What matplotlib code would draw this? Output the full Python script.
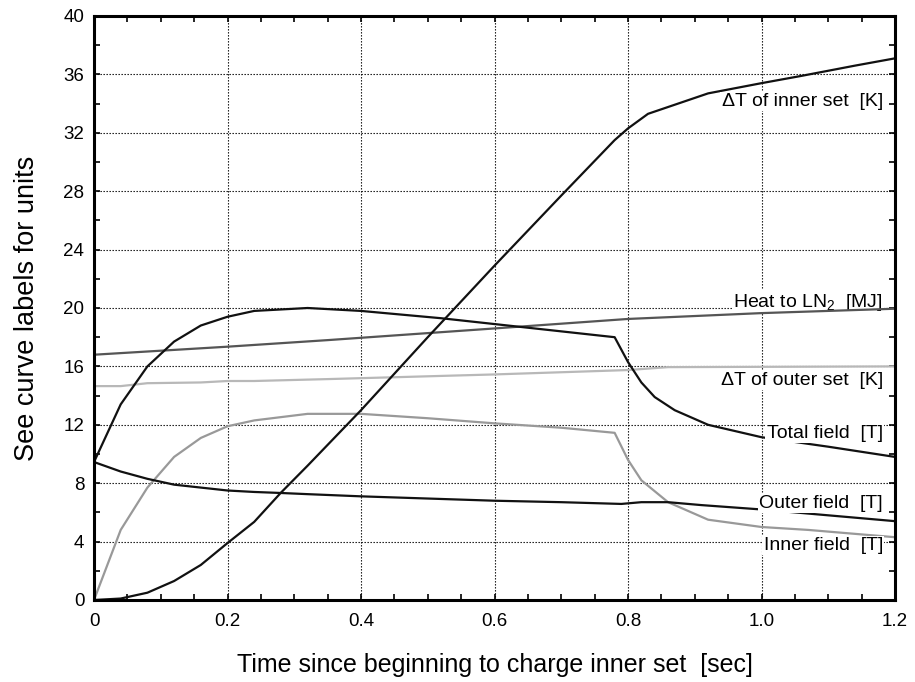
import matplotlib
matplotlib.use("Agg")
import matplotlib.pyplot as plt
from matplotlib.ticker import MultipleLocator, FixedLocator

plt.rcParams['font.family'] = ['Liberation Sans', 'DejaVu Sans']
plt.rcParams['mathtext.default'] = 'regular'

# ---- data ----
t_dTi = [0, 0.04, 0.08, 0.12, 0.16, 0.20, 0.24, 0.28, 0.32, 0.36, 0.40, 0.50, 0.60, 0.70, 0.78, 0.80, 0.83, 0.92, 1.00, 1.06, 1.14, 1.20]
dT_inner = [0, 0.1, 0.5, 1.3, 2.4, 3.9, 5.35, 7.35, 9.2, 11.1, 13.0, 18.0, 22.9, 27.7, 31.5, 32.3, 33.3, 34.7, 35.4, 35.9, 36.6, 37.1]

t_tot = [0, 0.04, 0.08, 0.12, 0.16, 0.20, 0.24, 0.32, 0.40, 0.52, 0.60, 0.70, 0.78, 0.80, 0.82, 0.84, 0.87, 0.92, 1.00, 1.10, 1.20]
total_field = [9.45, 13.4, 16.0, 17.7, 18.8, 19.4, 19.8, 20.0, 19.8, 19.3, 18.9, 18.4, 18.0, 16.3, 14.9, 13.9, 13.0, 12.0, 11.15, 10.5, 9.8]

t_inn = [0, 0.04, 0.08, 0.12, 0.16, 0.20, 0.24, 0.32, 0.40, 0.50, 0.60, 0.70, 0.78, 0.80, 0.82, 0.86, 0.92, 1.00, 1.07, 1.20]
inner_field = [0, 4.8, 7.7, 9.8, 11.1, 11.9, 12.3, 12.75, 12.75, 12.45, 12.1, 11.8, 11.45, 9.6, 8.2, 6.7, 5.5, 5.0, 4.8, 4.3]

t_out = [0, 0.04, 0.08, 0.12, 0.16, 0.20, 0.24, 0.28, 0.32, 0.40, 0.52, 0.60, 0.70, 0.79, 0.82, 0.86, 0.91, 1.00, 1.20]
outer_field = [9.45, 8.8, 8.3, 7.9, 7.7, 7.5, 7.4, 7.33, 7.25, 7.1, 6.92, 6.8, 6.7, 6.58, 6.7, 6.7, 6.5, 6.2, 5.4]

t_heat = [0, 0.20, 0.35, 0.60, 0.80, 1.00, 1.20]
heat_LN2 = [16.8, 17.35, 17.8, 18.6, 19.25, 19.65, 19.95]

t_dTo = [0, 0.04, 0.08, 0.16, 0.20, 0.24, 0.35, 0.60, 0.80, 0.86, 1.20]
dT_outer = [14.65, 14.65, 14.85, 14.9, 15.0, 15.0, 15.13, 15.45, 15.75, 15.95, 16.0]

x_ticks = [0, 0.2, 0.4, 0.6, 0.8, 1.0, 1.2]
x_ticklabels = ["0", "0.2", "0.4", "0.6", "0.8", "1.0", "1.2"]
y_ticks = [0, 4, 8, 12, 16, 20, 24, 28, 32, 36, 40]

labels = ["\u0394T of inner set  [K]", "Heat to LN$_2$  [MJ]", "\u0394T of outer set  [K]",
          "Total field  [T]", "Outer field  [T]", "Inner field  [T]"]
label_y = [33.84, 20.09, 14.73, 11.1, 6.3, 3.42]
label_z = [4, 2.5, 4, 4, 4, 4]

# ---- figure ----
fig = plt.figure(figsize=(9.15, 6.82), dpi=100)
ax = fig.add_axes([94/915, 1-600/682, (895-94)/915, (600-16)/682])

lw = 1.6
ax.plot(t_heat, heat_LN2, color='#555555', lw=lw, zorder=3)
ax.plot(t_dTo, dT_outer, color='#b8b8b8', lw=lw, zorder=3)
ax.plot(t_inn, inner_field, color='#999999', lw=lw, zorder=3)
ax.plot(t_out, outer_field, color='#111111', lw=lw, zorder=3)
ax.plot(t_tot, total_field, color='#111111', lw=lw, zorder=3)
ax.plot(t_dTi, dT_inner, color='#111111', lw=lw, zorder=3)

ax.set_xlim(0, 1.2)
ax.set_ylim(0, 40)
ax.xaxis.set_major_locator(FixedLocator(x_ticks))
ax.set_xticklabels(x_ticklabels)
ax.yaxis.set_major_locator(FixedLocator(y_ticks))
ax.xaxis.set_minor_locator(MultipleLocator(0.05))
ax.yaxis.set_minor_locator(MultipleLocator(2))

ax.grid(True, which='major', color='black', linestyle=(0, (1.2, 1.5)), linewidth=0.8)
ax.set_axisbelow(True)

for s in ax.spines.values():
    s.set_linewidth(2.2)
    s.set_zorder(5)

ax.tick_params(which='both', direction='in', top=True, right=True, labelsize=13.5, width=1.2)
ax.tick_params(which='major', length=4)
ax.tick_params(which='minor', length=4)
ax.tick_params(axis='x', pad=9)
ax.tick_params(axis='y', pad=7)

ax.set_xlabel("Time since beginning to charge inner set  [sec]", fontsize=18, labelpad=17)
ax.set_ylabel("See curve labels for units", fontsize=19.5, labelpad=17)

for lab, yv, zz in zip(labels, label_y, label_z):
    ax.text(1.182, yv, lab, fontsize=14, ha='right', va='baseline', zorder=zz,
            bbox=dict(facecolor='white', edgecolor='none', pad=1.0))

fig.savefig("out.png", dpi=100)
